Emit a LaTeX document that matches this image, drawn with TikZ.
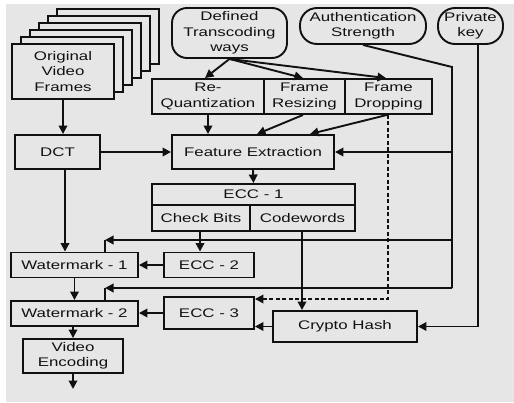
\documentclass[tikz,border=0pt]{standalone}
\usepackage{fontspec}
\setmainfont{Liberation Sans}[FakeStretch=1.35]
\usetikzlibrary{arrows.meta}
\definecolor{bgc}{HTML}{E6E6E6}
\definecolor{ink}{HTML}{111111}
\begin{document}
\begin{tikzpicture}[x=1pt,y=-1pt,
  every node/.style={font=\fontsize{12.5}{15.5}\selectfont, text=ink},
  box/.style={draw=ink, line width=1.9pt, fill=bgc, inner sep=0pt, align=center},
  bubble/.style={box, rounded corners=15pt},
  pill/.style={box, rounded corners=17pt},
  conn/.style={draw=ink, line width=1.9pt},
  arr/.style={conn, -{Triangle[length=8.5pt,width=8.5pt]}},
  dashconn/.style={arr, dash pattern=on 4pt off 2.5pt}
]
\useasboundingbox (0,0) rectangle (514,402);
\fill[bgc] (6,4) rectangle (514,402);

% stack of frames behind the front one
\foreach \k in {5,4,3,2,1}
  \draw[draw=ink, line width=1.9pt, fill=bgc]
    (12+9*\k, 44-7*\k) rectangle (114+9*\k, 99-7*\k);
\node[box, minimum width=102pt, minimum height=55pt] (ofr) at (63,71.5) {Original\\Video\\Frames};

% inputs
\node[bubble, minimum width=115pt, minimum height=50pt] (dtw) at (229.5,33) {Defined\\Transcoding\\ways};
\node[pill, minimum width=126pt, minimum height=36pt] (auth) at (363,26) {Authentication\\Strength};
\node[pill, minimum width=65pt, minimum height=36pt] (pkey) at (470.5,26) {Private\\key};

% transcoding operations
\node[box, minimum width=112pt, minimum height=35pt] (rq) at (208,96.5) {Re-\\Quantization};
\node[box, minimum width=81pt, minimum height=35pt] (frs) at (304.5,96.5) {Frame\\Resizing};
\node[box, minimum width=87pt, minimum height=35pt] (fdr) at (388.5,96.5) {Frame\\Dropping};

% processing chain
\node[box, minimum width=85pt, minimum height=34pt] (dct) at (57.5,152) {DCT};
\node[box, minimum width=162pt, minimum height=34pt] (fe) at (253,152) {Feature Extraction};
\node[box, minimum width=203pt, minimum height=21pt] (ecc1) at (253.5,194.5) {ECC - 1};
\node[box, minimum width=98pt, minimum height=26pt] (cb) at (201,218) {Check Bits};
\node[box, minimum width=105pt, minimum height=26pt] (cw) at (302.5,218) {Codewords};
\node[box, minimum width=127pt, minimum height=25pt] (wm1) at (74.5,265) {Watermark - 1};
\node[box, minimum width=90pt, minimum height=25pt] (ecc2) at (209,265) {ECC - 2};
\node[box, minimum width=127pt, minimum height=25pt] (wm2) at (74.5,313.5) {Watermark - 2};
\node[box, minimum width=90pt, minimum height=32pt] (ecc3) at (209,313) {ECC - 3};
\node[box, minimum width=100pt, minimum height=34pt] (venc) at (73,356) {Video\\Encoding};
\node[box, minimum width=144pt, minimum height=31pt] (ch) at (345,326.5) {Crypto Hash};

% routing points
\coordinate (out) at (73,389);
\coordinate (dctdown) at (65,0);
\coordinate (cbdown) at (200,0);
\coordinate (cwdown) at (302,0);
\coordinate (a1) at (452,67);
\coordinate (a2) at (452,288);
\coordinate (w1in) at (105,240);
\coordinate (w2in) at (105,288);
\coordinate (dash) at (388,299);
\coordinate (p1) at (478,326.5);

% main flow
\draw[arr] (ofr.south) -- (dct.north -| ofr.south);
\draw[arr] (dct.east) -- (fe.west);
\draw[arr] (dct.south -| dctdown) -- (wm1.north -| dctdown);
\draw[arr] (dtw.south) -- ([xshift=-3pt]rq.north);
\draw[arr] (dtw.south) -- ([xshift=-1.5pt]frs.north);
\draw[arr] (dtw.south) -- ([xshift=-2.5pt]fdr.north);
\draw[arr] (rq.south) -- (fe.north -| rq.south);
\draw[arr] ([xshift=-1.5pt]frs.south) -- ([xshift=4pt]fe.north);
\draw[arr] ([xshift=-1.5pt]fdr.south) -- ([xshift=57pt]fe.north);
\draw[arr] (fe.south) -- (ecc1.north);
\draw[arr] (cb.south -| cbdown) -- (ecc2.north -| cbdown);
\draw[arr] (cw.south -| cwdown) -- (ch.north -| cwdown);
\draw[arr] (ecc2.west) -- (wm1.east);
\draw[arr] (ecc3.west) -- (wm2.east |- ecc3.west);
\draw[arr] (ch.west) -- (ecc3.east |- ch.west);
\draw[arr] (wm1.south) -- (wm2.north);
\draw[arr] ([xshift=-1.5pt]wm2.south) -- (venc.north);
\draw[arr] (venc.south) -- (out);

% frame dropping feeds ECC - 3
\draw[dashconn] (fdr.south -| dash) -- (dash) -- (ecc3.east |- dash);

% authentication strength distribution
\draw[conn] (auth.south) -- (a1) -- (a2);
\draw[arr] (a1 |- fe.east) -- (fe.east);
\draw[arr] (a1 |- w1in) -- (w1in);
\draw[conn] (w1in) -- (wm1.north -| w1in);
\draw[arr] (a2) -- (w2in);
\draw[conn] (w2in) -- (wm2.north -| w2in);

% private key into the hash
\draw[conn] (pkey.south -| p1) -- (p1);
\draw[arr] (p1) -- (ch.east);
\end{tikzpicture}
\end{document}
